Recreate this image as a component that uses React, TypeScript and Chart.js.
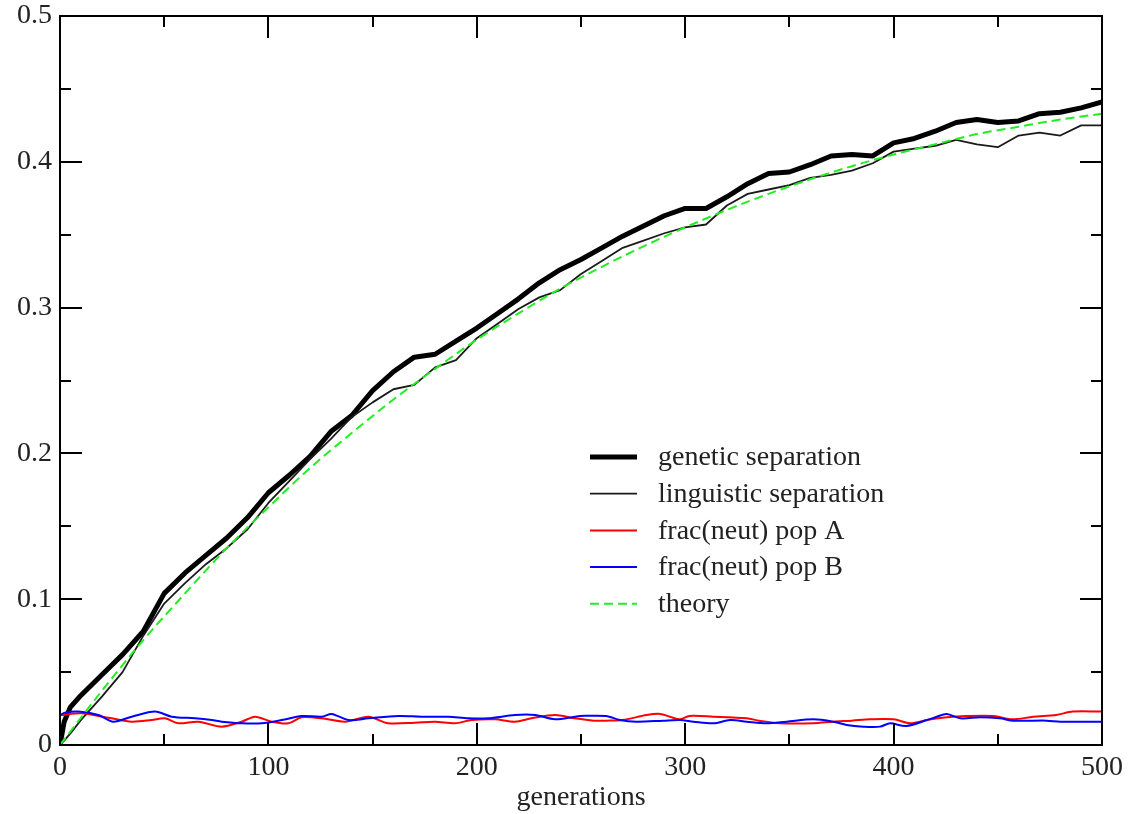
import React, { useEffect, useRef } from "react";
import { Chart, registerables } from "chart.js";

Chart.register(...registerables);

// ---- data ----
const gens = [0, 2, 5, 10, 20, 30, 40, 50, 60, 70, 80, 90, 100, 110, 120, 130, 140, 150, 160, 170, 180, 190, 200, 210, 220, 230, 240, 250, 260, 270, 280, 290, 300, 310, 320, 330, 340, 350, 360, 370, 380, 390, 400, 410, 420, 430, 440, 450, 460, 470, 480, 490, 500];
const genetic = [0, 0.016, 0.026, 0.034, 0.048, 0.062, 0.078, 0.104, 0.118, 0.130, 0.142, 0.156, 0.173, 0.185, 0.198, 0.215, 0.226, 0.243, 0.256, 0.266, 0.268, 0.277, 0.286, 0.296, 0.306, 0.317, 0.326, 0.333, 0.341, 0.349, 0.356, 0.363, 0.368, 0.368, 0.376, 0.385, 0.392, 0.393, 0.398, 0.404, 0.405, 0.404, 0.413, 0.416, 0.421, 0.427, 0.429, 0.427, 0.428, 0.433, 0.434, 0.437, 0.441];
const linguistic = [0, 0.003, 0.008, 0.017, 0.033, 0.050, 0.075, 0.097, 0.111, 0.124, 0.135, 0.148, 0.166, 0.181, 0.196, 0.210, 0.225, 0.235, 0.244, 0.247, 0.259, 0.264, 0.279, 0.289, 0.299, 0.307, 0.312, 0.323, 0.332, 0.341, 0.346, 0.351, 0.355, 0.357, 0.370, 0.378, 0.381, 0.384, 0.389, 0.391, 0.394, 0.399, 0.407, 0.409, 0.411, 0.415, 0.412, 0.410, 0.418, 0.420, 0.418, 0.425, 0.425];

const theoryGens = [0, 20, 40, 60, 80, 100, 120, 140, 160, 180, 200, 220, 240, 260, 280, 300, 320, 340, 360, 380, 400, 420, 440, 460, 480, 500];
const theory = [0, 0.037, 0.072, 0.104, 0.135, 0.163, 0.190, 0.214, 0.237, 0.258, 0.278, 0.296, 0.313, 0.328, 0.342, 0.355, 0.367, 0.378, 0.388, 0.397, 0.405, 0.412, 0.419, 0.424, 0.429, 0.433];

const redGens = [0, 10.4, 18.4, 24.8, 34.4, 44, 50.4, 56.8, 66.4, 77.6, 87.2, 93.6, 101.6, 109.6, 116, 125.6, 136.8, 148, 157.5, 170.3, 180, 189.5, 197.5, 208.7, 218.3, 226.3, 237.5, 247, 256, 262, 270, 281.5, 288, 292.7, 297.5, 302, 313.5, 329.5, 335.5, 345.5, 361.5, 371, 380, 388.7, 400, 408, 416, 425.5, 435, 448, 457, 467, 478, 486, 500];
const redVals = [0.0205, 0.0217, 0.0199, 0.0183, 0.016, 0.0171, 0.0183, 0.0149, 0.016, 0.0126, 0.016, 0.0194, 0.016, 0.0149, 0.019, 0.0183, 0.016, 0.0194, 0.0149, 0.0153, 0.016, 0.0149, 0.0171, 0.0176, 0.016, 0.0183, 0.0206, 0.0183, 0.0167, 0.0167, 0.0171, 0.0206, 0.0213, 0.0194, 0.0176, 0.0199, 0.0194, 0.0183, 0.0167, 0.0149, 0.0149, 0.016, 0.0167, 0.0176, 0.0176, 0.0149, 0.0171, 0.019, 0.0199, 0.0199, 0.0176, 0.0194, 0.0206, 0.0229, 0.0229];

const blueGens = [0, 2.4, 8.8, 18.4, 25.6, 34.4, 45.6, 53.6, 64.8, 72.8, 77.6, 87.2, 96.8, 106.4, 116, 125.6, 130.4, 138.4, 148, 162.3, 173.5, 186.3, 196, 205.5, 218.3, 228, 237.5, 247, 249.5, 262, 268.7, 276.7, 289.5, 297.5, 304, 313.5, 321.5, 329.5, 339, 348.6, 361.5, 371, 377.5, 385.5, 393.5, 398.3, 406, 416, 420.7, 425.5, 432, 441.5, 451, 457.4, 473.5, 480, 500];
const blueVals = [0.0205, 0.0222, 0.0229, 0.0206, 0.016, 0.0194, 0.0229, 0.0194, 0.0183, 0.0171, 0.016, 0.0149, 0.0149, 0.0171, 0.0199, 0.0194, 0.0213, 0.0171, 0.0183, 0.0199, 0.0194, 0.0194, 0.0183, 0.0183, 0.0206, 0.0206, 0.0176, 0.0194, 0.0199, 0.0199, 0.0171, 0.016, 0.0167, 0.0171, 0.016, 0.0149, 0.0171, 0.016, 0.0149, 0.016, 0.0176, 0.016, 0.0137, 0.0126, 0.0126, 0.0149, 0.013, 0.0171, 0.0194, 0.0213, 0.0183, 0.019, 0.0183, 0.0167, 0.0167, 0.016, 0.016];

const seriesLabels = ["genetic separation", "linguistic separation", "frac(neut) pop A", "frac(neut) pop B", "theory"];
const xMajorTicks = [0, 100, 200, 300, 400, 500];
const xMinorTicks = [50, 150, 250, 350, 450];
const yMajorTicks = [0, 0.1, 0.2, 0.3, 0.4, 0.5];
const yMinorTicks = [0.05, 0.15, 0.25, 0.35, 0.45];

const FONT = "'Liberation Serif', 'DejaVu Serif', serif";
const TEXT_COLOR = "#222";
const FONT_SIZE = 28;

const toPts = (xs: number[], ys: number[]) => xs.map((x, i) => ({ x, y: ys[i] }));

const frameTicksPlugin = {
  id: "frameTicks",
  afterDatasetsDraw(chart: any) {
    const { ctx, chartArea, scales } = chart;
    const { left, right, top, bottom } = chartArea;
    const xs = scales.x;
    const ys = scales.y;
    ctx.save();
    ctx.strokeStyle = "#000";
    ctx.lineWidth = 2;
    ctx.lineCap = "butt";
    ctx.beginPath();
    const tick = (vals: number[], len: number) => {
      vals.forEach((v) => {
        const px = Math.round(xs.getPixelForValue(v));
        ctx.moveTo(px, bottom);
        ctx.lineTo(px, bottom - len);
        ctx.moveTo(px, top);
        ctx.lineTo(px, top + len);
      });
    };
    const ytick = (vals: number[], len: number) => {
      vals.forEach((v) => {
        const py = Math.round(ys.getPixelForValue(v));
        ctx.moveTo(left, py);
        ctx.lineTo(left + len, py);
        ctx.moveTo(right, py);
        ctx.lineTo(right - len, py);
      });
    };
    tick(xMajorTicks, 22);
    tick(xMinorTicks, 11);
    ytick(yMajorTicks, 22);
    ytick(yMinorTicks, 11);
    ctx.stroke();
    ctx.strokeRect(left, top, right - left, bottom - top);
    ctx.restore();
  },
};

const innerLegendPlugin = {
  id: "innerLegend",
  afterDraw(chart: any) {
    const { ctx } = chart;
    const x0 = 590;
    const x1 = 637;
    const tx = 658;
    const y0 = 457;
    const dy = 36.7;
    ctx.save();
    ctx.font = `${FONT_SIZE}px ${FONT}`;
    ctx.textBaseline = "middle";
    ctx.textAlign = "left";
    chart.data.datasets.forEach((ds: any, i: number) => {
      const y = y0 + i * dy;
      ctx.beginPath();
      ctx.strokeStyle = ds.borderColor;
      ctx.lineWidth = ds.borderWidth;
      ctx.setLineDash(ds.borderDash || []);
      ctx.moveTo(x0, y);
      ctx.lineTo(x1, y);
      ctx.stroke();
      ctx.setLineDash([]);
      ctx.fillStyle = TEXT_COLOR;
      ctx.fillText(ds.label, tx, y + 1);
    });
    ctx.restore();
  },
};

export default function App() {
  const ref = useRef<HTMLCanvasElement | null>(null);
  useEffect(() => {
    const canvas = ref.current;
    if (!canvas) return;
    const common = { pointRadius: 0, fill: false, tension: 0, borderJoinStyle: "round" as const };
    const chart = new Chart(canvas, {
      type: "line",
      data: {
        datasets: [
          { ...common, label: seriesLabels[0], data: toPts(gens, genetic), borderColor: "#000", borderWidth: 5, order: 4 },
          { ...common, label: seriesLabels[1], data: toPts(gens, linguistic), borderColor: "#1a1a1a", borderWidth: 1.8, order: 3 },
          { ...common, label: seriesLabels[2], data: toPts(redGens, redVals), borderColor: "#ff0000", borderWidth: 2, order: 2, tension: 0.3 },
          { ...common, label: seriesLabels[3], data: toPts(blueGens, blueVals), borderColor: "#0000ff", borderWidth: 2, order: 1, tension: 0.3 },
          { ...common, label: seriesLabels[4], data: toPts(theoryGens, theory), borderColor: "#22ee22", borderWidth: 2, borderDash: [9, 5], order: 0, cubicInterpolationMode: "monotone" },
        ] as any,
      },
      options: {
        responsive: false,
        animation: false,
        parsing: true,
        layout: { padding: { left: 0, top: 16, right: 26, bottom: 0 } },
        plugins: { legend: { display: false }, tooltip: { enabled: false }, title: { display: false } },
        scales: {
          x: {
            type: "linear",
            min: 0,
            max: 500,
            grid: { display: false, drawTicks: false },
            border: { display: false },
            ticks: {
              stepSize: 100,
              padding: 9,
              color: TEXT_COLOR,
              font: { family: FONT, size: FONT_SIZE, lineHeight: 1.0 },
              maxRotation: 0,
            },
            title: {
              display: true,
              text: "generations",
              color: TEXT_COLOR,
              font: { family: FONT, size: FONT_SIZE, lineHeight: 1.2 },
              padding: { top: 0, bottom: 0 },
            },
            afterFit: (s: any) => {
              s.height = 69;
              s.paddingLeft = 0;
              s.paddingRight = 0;
            },
          },
          y: {
            type: "linear",
            min: 0,
            max: 0.5,
            grid: { display: false, drawTicks: false },
            border: { display: false },
            ticks: {
              stepSize: 0.1,
              padding: 8,
              color: TEXT_COLOR,
              font: { family: FONT, size: FONT_SIZE, lineHeight: 1.0 },
              callback: (v: any) => String(Math.round(Number(v) * 10) / 10),
            },
            afterFit: (s: any) => {
              s.width = 60;
              s.paddingTop = 0;
              s.paddingBottom = 0;
            },
          },
        },
      },
      plugins: [frameTicksPlugin, innerLegendPlugin],
    });
    return () => chart.destroy();
  }, []);

  return (
    <div style={{ position: "absolute", left: 0, top: 0, width: 1128, height: 814, background: "#fff" }}>
      <canvas ref={ref} width={1128} height={814} style={{ display: "block", width: 1128, height: 814 }} />
    </div>
  );
}
